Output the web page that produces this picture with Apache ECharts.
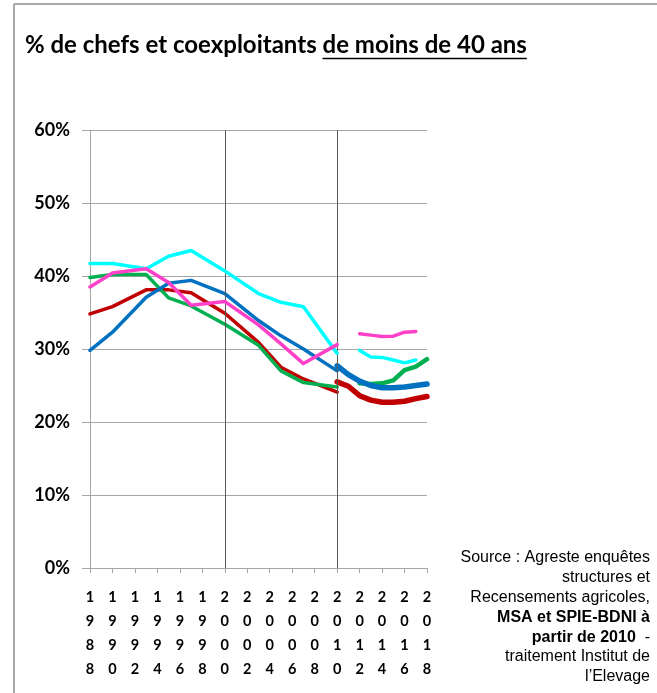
<!DOCTYPE html>
<html>
<head>
<meta charset="utf-8">
<script src="https://cdn.jsdelivr.net/npm/echarts@6/dist/echarts.min.js"></script>
<style>
  html, body { margin: 0; padding: 0; background: #fff; }
  #main { width: 657px; height: 693px; }
</style>
</head>
<body>
<div id="main"></div>
<script>
// enquêtes structures + recensements
var yearsSurvey = [1988, 1990, 1993, 1995, 1997, 2000, 2003, 2005, 2007, 2010];
var blueSurvey  = [29.8, 32.3, 37.1, 39.0, 39.4, 37.6, 33.9, 31.8, 30.0, 27.0];
var redSurvey   = [34.8, 35.8, 38.1, 38.1, 37.7, 34.9, 30.9, 27.5, 25.9, 24.1];
var greenSurvey = [39.8, 40.2, 40.2, 37.0, 35.9, 33.4, 30.5, 27.0, 25.4, 24.8];
var cyanSurvey  = [41.7, 41.7, 41.0, 42.7, 43.5, 40.7, 37.6, 36.4, 35.8, 29.4];
var pinkSurvey  = [38.5, 40.4, 41.0, 39.1, 36.0, 36.5, 33.3, 30.7, 28.0, 30.6];

// MSA / SPIE-BDNI à partir de 2010
var yearsMsa = [2010, 2011, 2012, 2013, 2014, 2015, 2016, 2017, 2018];
var blueMsa  = [27.7, 26.5, 25.6, 25.0, 24.7, 24.7, 24.8, 25.0, 25.2];
var redMsa   = [25.5, 24.9, 23.6, 23.0, 22.7, 22.7, 22.85, 23.2, 23.5];
var greenMsa = [null, null, 25.3, 25.2, 25.3, 25.7, 27.1, 27.6, 28.6];
var cyanMsa  = [null, null, 29.8, 28.9, 28.85, 28.5, 28.1, 28.5, null];
var pinkMsa  = [null, null, 32.1, 31.9, 31.7, 31.75, 32.3, 32.4, null];

var markYears = [2000, 2010];

var titleStart = '% de chefs et coexploitants ';
var titleEnd = 'de moins de 40 ans';

var pairs = function (xs, ys) {
    return xs.map(function (x, i) { return [x, ys[i]]; });
};

var titleFont = 'bold 24px Lato';
var ctx = document.createElement('canvas').getContext('2d');
ctx.font = titleFont;
var w1 = ctx.measureText(titleStart).width;
var w2 = ctx.measureText(titleEnd).width;

var mkSeries = function (name, xs, ys, color, width, z) {
    return {
        name: name,
        type: 'line',
        data: pairs(xs, ys),
        symbol: 'none',
        z: z,
        lineStyle: { color: color, width: width, cap: 'round', join: 'round' },
        itemStyle: { color: color }
    };
};

var series = [
    mkSeries('rouge', yearsSurvey, redSurvey, '#C00000', 3.5, 2),
    mkSeries('vert', yearsSurvey, greenSurvey, '#00B050', 3.5, 3),
    mkSeries('bleu', yearsSurvey, blueSurvey, '#0070C0', 3.5, 4),
    mkSeries('cyan', yearsSurvey, cyanSurvey, '#00FFFF', 3.5, 5),
    mkSeries('rose', yearsSurvey, pinkSurvey, '#FF40C8', 3.5, 6),
    mkSeries('rouge MSA', yearsMsa, redMsa, '#C00000', 5.5, 2),
    mkSeries('vert MSA', yearsMsa, greenMsa, '#00B050', 4.5, 3),
    mkSeries('bleu MSA', yearsMsa, blueMsa, '#0070C0', 5.5, 4),
    mkSeries('cyan MSA', yearsMsa, cyanMsa, '#00FFFF', 3.5, 5),
    mkSeries('rose MSA', yearsMsa, pinkMsa, '#FF40C8', 3.5, 6)
];
// traits verticaux 2000 et 2010
series[0].markLine = {
    silent: true,
    symbol: 'none',
    label: { show: false },
    lineStyle: { color: '#595959', width: 1, type: 'solid' },
    data: markYears.map(function (y) { return { xAxis: y }; })
};

var srcStyle = { fontFamily: 'Liberation Sans', fontSize: 16, lineHeight: 19.8, fill: '#000', align: 'right' };

var chart = echarts.init(document.getElementById('main'));
var option = {
    animation: false,
    backgroundColor: '#fff',
    grid: { left: 90, right: 230, top: 130, bottom: 125 },
    xAxis: {
        type: 'value',
        min: 1988,
        max: 2018,
        interval: 2,
        axisLine: { lineStyle: { color: '#A6A6A6', width: 1 } },
        axisTick: { show: true, length: 5, lineStyle: { color: '#A6A6A6' } },
        splitLine: { show: false },
        axisLabel: {
            margin: 17,
            color: '#000',
            fontFamily: 'Lato',
            fontWeight: 'bold',
            fontSize: 14.5,
            lineHeight: 24,
            formatter: function (v) { return String(v).split('').join('\n'); }
        }
    },
    yAxis: {
        type: 'value',
        min: 0,
        max: 60,
        interval: 10,
        axisLine: { show: true, lineStyle: { color: '#A6A6A6', width: 1 } },
        axisTick: { show: true, length: 8, lineStyle: { color: '#A6A6A6' } },
        splitLine: { lineStyle: { color: '#A6A6A6', width: 1 } },
        axisLabel: {
            margin: 20,
            color: '#000',
            fontFamily: 'Lato',
            fontWeight: 'bold',
            fontSize: 18,
            formatter: '{value}%'
        }
    },
    graphic: [
        { type: 'line', shape: { x1: 14, y1: 4, x2: 14, y2: 693 }, style: { stroke: '#8C8C8C', lineWidth: 1.5 } },
        { type: 'line', shape: { x1: 14, y1: 4, x2: 657, y2: 4 }, style: { stroke: '#8C8C8C', lineWidth: 1.5 } },
        {
            type: 'text', left: 25, top: 33,
            style: { text: titleStart + titleEnd, font: titleFont, fill: '#000' }
        },
        {
            type: 'line',
            shape: { x1: 25 + w1, y1: 58.5, x2: 25 + w1 + w2, y2: 58.5 },
            style: { stroke: '#000', lineWidth: 1.5 }
        },
        {
            type: 'text', right: 7, top: 550,
            style: {
                text: '{n|Source : Agreste enquêtes}\n{n|structures et}\n{n|Recensements agricoles,}\n' +
                      '{b|MSA et SPIE-BDNI à}\n{b|partir de 2010}{n|  -}\n{n|traitement Institut de}\n{n|l’Elevage}',
                align: 'right',
                fill: '#000',
                rich: {
                    n: srcStyle,
                    b: Object.assign({}, srcStyle, { fontWeight: 'bold' })
                }
            }
        }
    ],
    series: series
};
chart.setOption(option);
</script>
</body>
</html>
